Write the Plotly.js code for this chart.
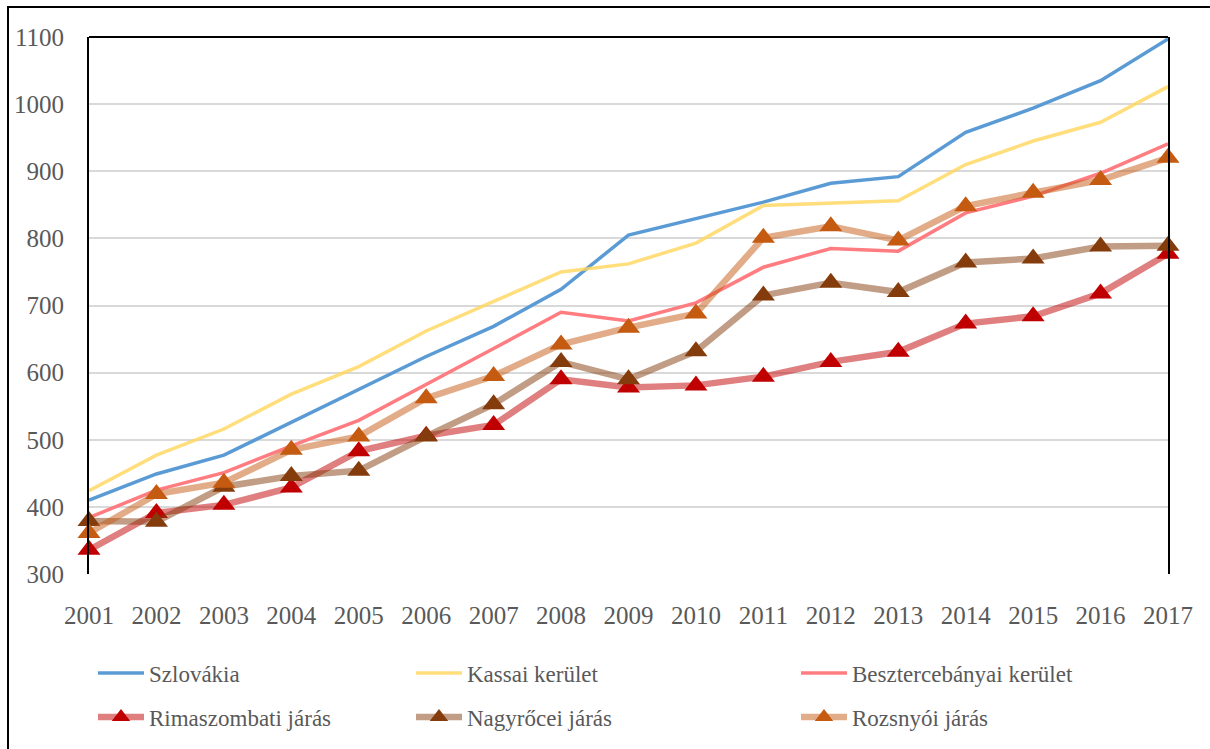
<!DOCTYPE html>
<html>
<head>
<meta charset="utf-8">
<script src="https://cdn.plot.ly/plotly-3.0.1.min.js"></script>
<style>html,body{margin:0;padding:0;background:#fff;}#chart{width:1210px;height:749px;}</style>
</head>
<body>
<div id="chart"></div>
<script>
const years = [2001,2002,2003,2004,2005,2006,2007,2008,2009,2010,2011,2012,2013,2014,2015,2016,2017];
const szlovakia    = [410,449,477,526,575,624,669,724,805,829,854,882,892,958,994,1035,1097];
const kassai       = [424,477,516,568,609,662,706,750,762,793,849,853,856,910,945,973,1026];
const beszterce    = [384,425,451,491,529,582,636,690,677,704,757,785,781,838,863,897,941];
const rimaszombati = [336,391,403,429,483,506,522,590,578,581,594,616,631,673,684,718,777];
const nagyrocei    = [379,378,430,446,454,505,553,616,590,632,715,734,720,764,770,788,789];
const rozsnyoi     = [361,419,436,485,505,562,595,642,667,688,801,818,797,848,868,887,920];
const names = ["Szlovákia","Kassai kerület","Besztercebányai kerület","Rimaszombati járás","Nagyrőcei járás","Rozsnyói járás"];
const yTicks = [300,400,500,600,700,800,900,1000,1100];

const fam = "Liberation Serif";
const tickFont = {family: fam, size: 25, color: "#595959"};
const legFont = {family: fam, size: 23, color: "#595959"};

function lineTrace(y, name, color, legend) {
  return {x: years, y: y, name: name, type: "scatter", mode: "lines",
    line: {color: color, width: 3.5}, cliponaxis: false, legend: legend};
}
function markTrace(y, name, lineColor, markColor, legend) {
  return {x: years, y: y, name: name, type: "scatter", mode: "lines+markers",
    line: {color: lineColor, width: 6.5},
    marker: {symbol: "triangle-up", size: 20, color: markColor},
    cliponaxis: false, legend: legend};
}

const data = [
  lineTrace(szlovakia, names[0], "#5B9BD5", "legend"),
  lineTrace(kassai, names[1], "rgba(255,214,90,0.8)", "legend2"),
  lineTrace(beszterce, names[2], "#FF7C80", "legend3"),
  markTrace(rimaszombati, names[3], "rgba(192,0,0,0.5)", "#C00000", "legend4"),
  markTrace(nagyrocei, names[4], "rgba(132,60,12,0.5)", "#843C0C", "legend5"),
  markTrace(rozsnyoi, names[5], "rgba(197,90,17,0.5)", "#C55A11", "legend6")
];

// plot area: left 89px, width 1079px; top 37px, height 538px
const px = v => (v - 89) / 1079;
const py = v => (575 - v) / 538;
function leg(xpx, ypx) {
  return {orientation: "h", font: legFont, itemwidth: 46, xanchor: "left", yanchor: "middle",
    bgcolor: "rgba(0,0,0,0)", x: px(xpx), y: py(ypx)};
}

const layout = {
  width: 1210, height: 749,
  margin: {l: 89, r: 42, t: 37, b: 174},
  paper_bgcolor: "#fff", plot_bgcolor: "#fff",
  font: legFont,
  showlegend: true,
  xaxis: {range: [2001, 2017], tickvals: years, ticktext: years.map(String), showgrid: false,
    zeroline: false, showline: false, ticks: "", tickfont: tickFont, ticklabelstandoff: 24, fixedrange: true},
  yaxis: {range: [300, 1100], tickvals: yTicks, showgrid: true, gridcolor: "#D9D9D9", gridwidth: 2,
    zeroline: false, showline: true, mirror: true, linecolor: "#000", linewidth: 2, ticks: "",
    tickfont: tickFont, ticklabelstandoff: 18, fixedrange: true},
  legend: leg(93, 673),
  legend2: leg(411, 673),
  legend3: leg(796, 673),
  legend4: leg(93, 717),
  legend5: leg(411, 717),
  legend6: leg(796, 717),
  shapes: [
    {type: "line", xref: "paper", yref: "paper", x0: 0, x1: 1, y0: 1, y1: 1, line: {color: "#000", width: 2}},
    {type: "rect", xref: "paper", yref: "paper", x0: px(8), x1: 1.05, y0: -0.40, y1: py(7),
      line: {color: "#000", width: 2}, layer: "below"}
  ]
};

Plotly.newPlot("chart", data, layout, {displayModeBar: false, staticPlot: true});
</script>
</body>
</html>
